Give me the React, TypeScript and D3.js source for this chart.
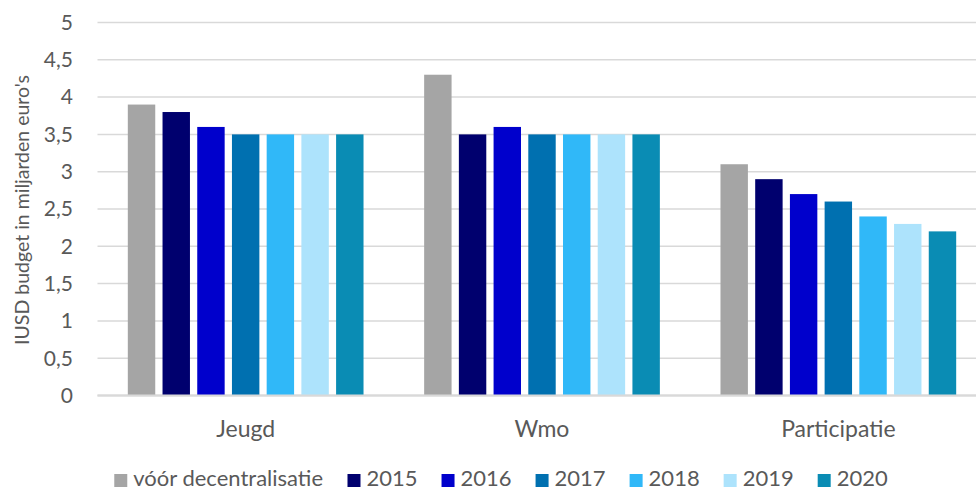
import React, { useMemo } from 'react';
import * as d3 from 'd3';

// ─── data ───
const CATEGORIES = ['Jeugd', 'Wmo', 'Participatie'];
const SERIES = ['vóór decentralisatie', '2015', '2016', '2017', '2018', '2019', '2020'];
const COLORS = ['#a5a5a5', '#00006e', '#0000cc', '#0070b0', '#30b8f8', '#ade3fc', '#0a8cb4'];
const VALUES = [
    [3.9, 3.8, 3.6, 3.5, 3.5, 3.5, 3.5], // Jeugd
    [4.3, 3.5, 3.6, 3.5, 3.5, 3.5, 3.5], // Wmo
    [3.1, 2.9, 2.7, 2.6, 2.4, 2.3, 2.2], // Participatie
];
const Y_TICKS = [0, 0.5, 1, 1.5, 2, 2.5, 3, 3.5, 4, 4.5, 5];
const Y_TITLE = "IUSD budget in miljarden euro's";

const W = 976;
const H = 491;
const FONT = "Lato, 'Open Sans', sans-serif";
const TEXT = '#595959';
const GRID = '#d9d9d9';

const fmt = (v: number) => String(v).replace('.', ',');

function measure(text: string, size: number) {
    const c = document.createElement('canvas').getContext('2d');
    if (!c) return text.length * size * 0.5;
    c.font = `${size}px Lato`;
    return c.measureText(text).width;
}

export default function App() {
    const x0 = d3.scaleBand().domain(CATEGORIES).range([97.5, 986.5]).paddingInner(0.18).paddingOuter(0.09);
    const x1 = d3.scaleBand().domain(SERIES).range([0, x0.bandwidth()]).paddingInner(0.21).paddingOuter(0.105);
    const y = d3.scaleLinear().domain([0, 5]).range([395.5, 22.5]);

    // legend layout, centred under the plot
    const legend = useMemo(() => {
        const box = 13, gap = 6, itemGap = 24, size = 22;
        const widths = SERIES.map(s => box + gap + measure(s, size));
        const total = d3.sum(widths) + itemGap * (SERIES.length - 1);
        let cx = 501 - total / 2;
        return SERIES.map((s, i) => {
            const item = { label: s, x: cx, box, gap, size, color: COLORS[i] };
            cx += widths[i] + itemGap;
            return item;
        });
    }, []);

    return (
        <svg width={W} height={H} style={{ position: 'absolute', left: 0, top: 0, background: '#fff', fontFamily: FONT }}>
            {/* grid */}
            {Y_TICKS.map(t => (
                <g key={t}>
                    <line x1={97.5} x2={W} y1={y(t)} y2={y(t)} stroke={GRID} strokeWidth={t === 0 ? 2 : 1.5} />
                    <text x={73} y={y(t)} dy="0.35em" textAnchor="end" fontSize={21} fill={TEXT}>{fmt(t)}</text>
                </g>
            ))}

            {/* bars */}
            {CATEGORIES.map((c, ci) => (
                <g key={c} transform={`translate(${x0(c)},0)`}>
                    {SERIES.map((s, si) => (
                        <rect key={s} x={x1(s)} width={x1.bandwidth()} y={y(VALUES[ci][si])}
                            height={y(0) - y(VALUES[ci][si])} fill={COLORS[si]} />
                    ))}
                </g>
            ))}
            <line x1={97.5} x2={W} y1={y(0)} y2={y(0)} stroke={GRID} strokeWidth={2} />

            {/* category labels */}
            {CATEGORIES.map(c => (
                <text key={c} x={(x0(c) as number) + x0.bandwidth() / 2} y={437} textAnchor="middle" fontSize={23} fill={TEXT}>{c}</text>
            ))}

            {/* y title */}
            <text transform="translate(29,210) rotate(-90)" textAnchor="middle" fontSize={19.5} fill={TEXT}>{Y_TITLE}</text>

            {/* legend */}
            {legend.map(d => (
                <g key={d.label}>
                    <rect x={d.x} y={474} width={d.box} height={d.box} fill={d.color} />
                    <text x={d.x + d.box + d.gap} y={486} fontSize={d.size} fill={TEXT}>{d.label}</text>
                </g>
            ))}
        </svg>
    );
}
